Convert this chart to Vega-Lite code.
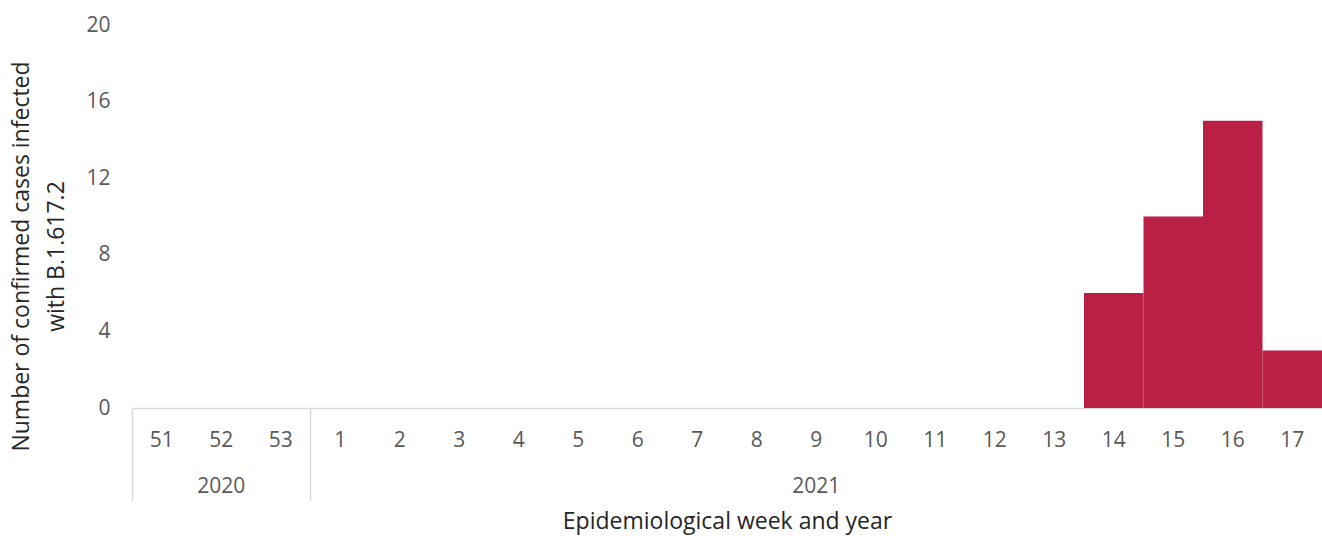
{
  "$schema": "https://vega.github.io/schema/vega-lite/v6.json",
  "autosize": "none",
  "padding": {"left": 132, "top": 25, "right": 0, "bottom": 128},
  "width": 1190,
  "height": 383,
  "background": "white",
  "config": {
    "view": {"stroke": null},
    "font": "Open Sans",
    "axis": {"grid": false, "labelFont": "Open Sans", "titleFont": "Open Sans", "labelColor": "#595959", "titleColor": "#262626", "titleFontWeight": "normal"}
  },
  "data": {
    "values": [
      {"week": "51", "year": "2020", "cases": 0},
      {"week": "52", "year": "2020", "cases": 0},
      {"week": "53", "year": "2020", "cases": 0},
      {"week": "1", "year": "2021", "cases": 0},
      {"week": "2", "year": "2021", "cases": 0},
      {"week": "3", "year": "2021", "cases": 0},
      {"week": "4", "year": "2021", "cases": 0},
      {"week": "5", "year": "2021", "cases": 0},
      {"week": "6", "year": "2021", "cases": 0},
      {"week": "7", "year": "2021", "cases": 0},
      {"week": "8", "year": "2021", "cases": 0},
      {"week": "9", "year": "2021", "cases": 0},
      {"week": "10", "year": "2021", "cases": 0},
      {"week": "11", "year": "2021", "cases": 0},
      {"week": "12", "year": "2021", "cases": 0},
      {"week": "13", "year": "2021", "cases": 0},
      {"week": "14", "year": "2021", "cases": 6},
      {"week": "15", "year": "2021", "cases": 10},
      {"week": "16", "year": "2021", "cases": 15},
      {"week": "17", "year": "2021", "cases": 3}
    ]
  },
  "encoding": {
    "x": {
      "field": "week",
      "type": "nominal",
      "sort": ["51","52","53","1","2","3","4","5","6","7","8","9","10","11","12","13","14","15","16","17"],
      "scale": {"paddingInner": 0, "paddingOuter": 0}
    },
    "y": {
      "field": "cases",
      "type": "quantitative",
      "scale": {"domain": [0, 20]},
      "axis": {
        "values": [0, 4, 8, 12, 16, 20],
        "domain": false,
        "ticks": false,
        "labelFontSize": 21,
        "labelPadding": 22,
        "title": ["Number of confirmed cases infected", "with B.1.617.2"],
        "titleFontSize": 23,
        "titlePadding": 17,
        "titleLineHeight": 35,
        "titleY": 231
      }
    }
  },
  "layer": [
    {
      "mark": {"type": "bar", "color": "#BA2046"},
      "encoding": {
        "x": {
          "field": "week",
          "type": "nominal",
          "sort": ["51","52","53","1","2","3","4","5","6","7","8","9","10","11","12","13","14","15","16","17"],
          "axis": {
            "orient": "bottom",
            "labelAngle": 0,
            "labelFontSize": 21,
            "labelPadding": 21,
            "ticks": false,
            "domainColor": "#d9d9d9",
            "domainWidth": 1.5,
            "title": "Epidemiological week and year",
            "titleFontSize": 23,
            "titlePadding": 60
          }
        }
      }
    },
    {
      "mark": {"type": "bar", "opacity": 0},
      "encoding": {
        "x": {
          "field": "week",
          "type": "nominal",
          "sort": ["51","52","53","1","2","3","4","5","6","7","8","9","10","11","12","13","14","15","16","17"],
          "axis": {
            "orient": "bottom",
            "values": ["51", "1"],
            "bandPosition": 0,
            "labels": false,
            "domain": false,
            "ticks": true,
            "tickSize": 93,
            "tickColor": "#d9d9d9",
            "tickWidth": 1.5,
            "title": null
          }
        }
      }
    },
    {
      "mark": {"type": "bar", "opacity": 0},
      "encoding": {
        "x": {
          "field": "week",
          "type": "nominal",
          "sort": ["51","52","53","1","2","3","4","5","6","7","8","9","10","11","12","13","14","15","16","17"],
          "axis": {
            "orient": "bottom",
            "values": ["52", "9"],
            "labelExpr": "datum.value == '52' ? '2020' : '2021'",
            "labelAngle": 0,
            "labelFontSize": 21,
            "labelPadding": 67,
            "ticks": false,
            "domain": false,
            "title": null
          }
        }
      }
    }
  ],
  "resolve": {"axis": {"x": "independent"}}
}
